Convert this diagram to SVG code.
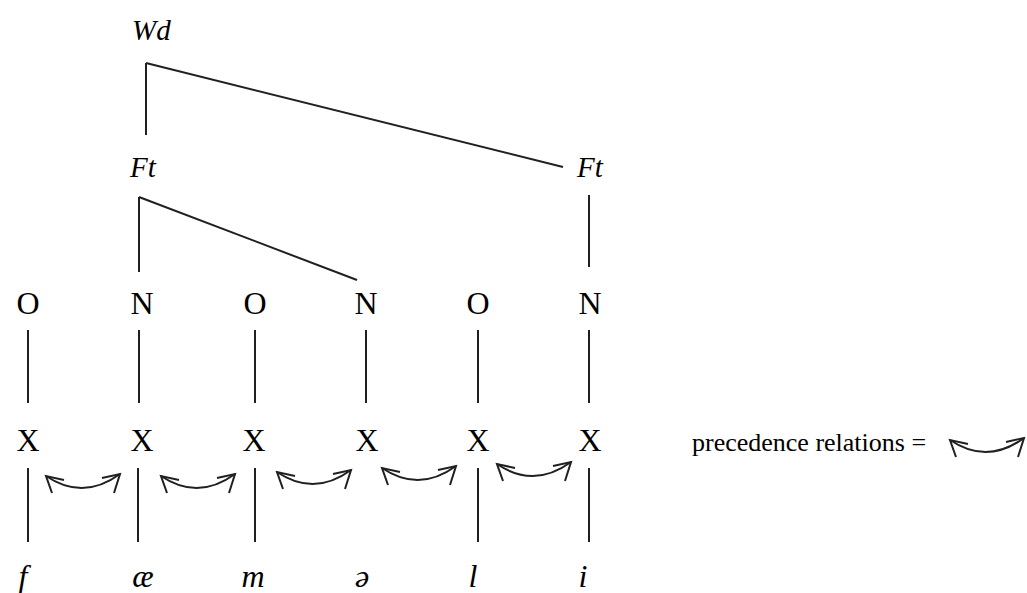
<svg xmlns="http://www.w3.org/2000/svg" width="1027" height="593" viewBox="0 0 1027 593">
<style>
.t{font-family:"Liberation Serif","DejaVu Serif","Times New Roman",Times,serif;fill:#000}
.i{font-style:italic}
.c{text-anchor:middle}
.ln{stroke:#231f20;stroke-width:2;fill:none;stroke-linecap:butt}
.arc{stroke:#231f20;stroke-width:2;fill:none;stroke-linejoin:miter}
</style>
<defs>
<g id="prec">
<path class="arc" d="M0,0 Q37,25 74,-2"/>
<polyline class="arc" points="6,17 0,0 18,4"/>
<polyline class="arc" points="68,17 74,-2 56,2"/>
</g>
</defs>
<rect width="1027" height="593" fill="#fff"/>
<g id="connectors">
<line class="ln" x1="146" y1="63" x2="146" y2="135"/>
<line class="ln" x1="146" y1="63" x2="563" y2="167"/>
<line class="ln" x1="139" y1="197" x2="139" y2="272"/>
<line class="ln" x1="139" y1="197" x2="357" y2="280"/>
<line class="ln" x1="589" y1="195" x2="589" y2="267"/>
<line class="ln" x1="28" y1="330" x2="28" y2="403"/>
<line class="ln" x1="139" y1="330" x2="139" y2="403"/>
<line class="ln" x1="255" y1="330" x2="255" y2="403"/>
<line class="ln" x1="366" y1="330" x2="366" y2="403"/>
<line class="ln" x1="478" y1="330" x2="478" y2="403"/>
<line class="ln" x1="589" y1="330" x2="589" y2="403"/>
<line class="ln" x1="28" y1="468" x2="28" y2="542"/>
<line class="ln" x1="138" y1="468" x2="138" y2="542"/>
<line class="ln" x1="255" y1="468" x2="255" y2="542"/>
<line class="ln" x1="478" y1="468" x2="478" y2="542"/>
<line class="ln" x1="589" y1="468" x2="589" y2="542"/>
<use href="#prec" transform="translate(46,476)"/>
<use href="#prec" transform="translate(161,476)"/>
<use href="#prec" transform="translate(277,472)"/>
<use href="#prec" transform="translate(382,468)"/>
<use href="#prec" transform="translate(497,464)"/>
</g>
<g id="wd"><text class="t i" x="132" y="40" font-size="29">Wd</text></g>
<g id="ft1"><text class="t i" x="130" y="177" font-size="29">Ft</text></g>
<g id="ft2"><text class="t i" x="577" y="177" font-size="29">Ft</text></g>
<g id="o1"><text class="t c" x="28" y="314" font-size="32">O</text></g>
<g id="n1"><text class="t c" x="142" y="314" font-size="32">N</text></g>
<g id="o2"><text class="t c" x="255" y="314" font-size="32">O</text></g>
<g id="n2"><text class="t c" x="366" y="314" font-size="32">N</text></g>
<g id="o3"><text class="t c" x="478" y="314" font-size="32">O</text></g>
<g id="n3"><text class="t c" x="590" y="314" font-size="32">N</text></g>
<g id="x1"><text class="t c" x="28" y="451" font-size="32">X</text></g>
<g id="x2"><text class="t c" x="142" y="451" font-size="32">X</text></g>
<g id="x3"><text class="t c" x="254" y="451" font-size="32">X</text></g>
<g id="x4"><text class="t c" x="367" y="451" font-size="32">X</text></g>
<g id="x5"><text class="t c" x="478" y="451" font-size="32">X</text></g>
<g id="x6"><text class="t c" x="590" y="451" font-size="32">X</text></g>
<g id="s1"><text class="t i c" x="23" y="587" font-size="32">f</text></g>
<g id="s2"><text class="t i c" x="143" y="587" font-size="32">æ</text></g>
<g id="s3"><text class="t i c" x="253" y="587" font-size="32">m</text></g>
<g id="s4"><text class="t i c" x="362" y="587" font-size="32">ə</text></g>
<g id="s5"><text class="t i c" x="473" y="587" font-size="32">l</text></g>
<g id="s6"><text class="t i c" x="583" y="587" font-size="32">i</text></g>
<g id="legend">
<text class="t" x="692" y="451" font-size="26">precedence relations =</text>
<use href="#prec" transform="translate(950,440)"/>
</g>
</svg>
